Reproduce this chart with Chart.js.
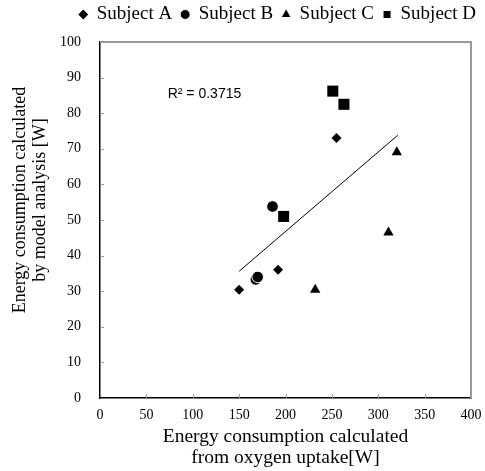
<!DOCTYPE html>
<html>
<head>
<meta charset="utf-8">
<script src="https://cdn.jsdelivr.net/npm/chart.js@4/dist/chart.umd.min.js"></script>
<style>
html, body { margin: 0; padding: 0; background: #fff; }
</style>
</head>
<body>
<canvas id="chart" width="485" height="471"></canvas>
<script>
// values
const subjectA = [{x: 150, y: 30.4}, {x: 192, y: 36}, {x: 255, y: 73}];
const subjectB = [{x: 186, y: 53.8}, {x: 168, y: 33.3}, {x: 170, y: 34}];
const subjectC = [{x: 232, y: 30.4}, {x: 320, y: 69}, {x: 311, y: 46.5}];
const subjectD = [{x: 251, y: 86.2}, {x: 263, y: 82.5}, {x: 198, y: 51}];
const trendLine = [{x: 150, y: 35.6}, {x: 321, y: 73.8}];
const r2Label = 'R² = 0.3715';
const r2Pos = {x: 73, y: 85.4};

const xTitle = ['Energy consumption calculated', 'from oxygen uptake[W]'];
const yTitle = ['Energy consumption calculated', 'by model analysis [W]'];

const serif = 'Liberation Serif';

// frame lines, inward tick marks, R² note and the y title
const framePlugin = {
  id: 'frame',
  afterDraw(chart) {
    const ctx = chart.ctx;
    const a = chart.chartArea;
    const xs = chart.scales.x, ys = chart.scales.y;
    ctx.save();
    ctx.strokeStyle = '#9a9a9a';
    ctx.lineWidth = 2;
    ctx.beginPath();
    ctx.moveTo(a.left, a.top);
    ctx.lineTo(a.right, a.top);
    ctx.lineTo(a.right, a.bottom);
    ctx.stroke();

    // small ticks pointing into the plot
    ctx.lineWidth = 1;
    ctx.beginPath();
    xs.ticks.forEach(t => {
      const px = Math.round(xs.getPixelForValue(t.value)) + 0.5;
      if (t.value === xs.min || t.value === xs.max) return;
      ctx.moveTo(px, a.bottom);
      ctx.lineTo(px, a.bottom - 4);
    });
    ys.ticks.forEach(t => {
      const py = Math.round(ys.getPixelForValue(t.value)) + 0.5;
      if (t.value === ys.min || t.value === ys.max) return;
      ctx.moveTo(a.left, py);
      ctx.lineTo(a.left + 4, py);
    });
    ctx.stroke();

    ctx.fillStyle = '#000';
    ctx.font = '14px "Liberation Sans"';
    ctx.textBaseline = 'middle';
    ctx.fillText(r2Label, xs.getPixelForValue(r2Pos.x), ys.getPixelForValue(r2Pos.y));

    // y axis title, sitting a little above the plot centre like the original
    ctx.font = '18px "' + serif + '"';
    ctx.textAlign = 'center';
    ctx.translate(0, 200);
    ctx.rotate(-Math.PI / 2);
    ctx.fillText(yTitle[0], 0, 20);
    ctx.fillText(yTitle[1], 0, 40);
    ctx.restore();
  }
};

// give the legend extra room below it
const legendSpace = {
  id: 'legendSpace',
  beforeInit(chart) {
    const fit = chart.legend.fit;
    chart.legend.fit = function() {
      fit.bind(chart.legend)();
      this.height += 8;
    };
  }
};

new Chart(document.getElementById('chart'), {
  type: 'scatter',
  data: {
    datasets: [
      {label: 'Subject A', data: subjectA, pointStyle: 'rectRot', pointRadius: 5,
       backgroundColor: '#000', borderColor: '#000', borderWidth: 0},
      {label: 'Subject B', data: subjectB, pointStyle: 'circle', pointRadius: 5.8,
       backgroundColor: '#000', borderColor: '#fff', borderWidth: 1},
      {label: 'Subject C', data: subjectC, pointStyle: 'triangle', pointRadius: 6,
       backgroundColor: '#000', borderColor: '#000', borderWidth: 0},
      {label: 'Subject D', data: subjectD, pointStyle: 'rect', pointRadius: 7.8,
       backgroundColor: '#000', borderColor: '#000', borderWidth: 0},
      {label: 'trend', data: trendLine, type: 'line', showLine: true, pointRadius: 0,
       borderColor: '#000', borderWidth: 1, fill: false}
    ]
  },
  options: {
    responsive: false,
    animation: false,
    layout: {padding: {left: 0, right: 0, top: -4, bottom: 0}},
    plugins: {
      tooltip: {enabled: false},
      legend: {
        position: 'top',
        align: 'end',
        labels: {
          usePointStyle: true,
          boxWidth: 8,
          boxHeight: 7,
          padding: 9,
          color: '#000',
          font: {family: serif, size: 19},
          filter: item => item.text !== 'trend'
        }
      }
    },
    scales: {
      x: {
        min: 0, max: 400,
        afterFit(scale) {
          scale.height = 73;
          scale.paddingRight = 14;
        },
        ticks: {stepSize: 50, color: '#000', padding: 9, font: {family: serif, size: 14}},
        grid: {drawOnChartArea: false, drawTicks: false},
        border: {color: '#000', width: 1.5},
        title: {display: true, text: xTitle, color: '#000', padding: {top: 0, bottom: 3},
                font: {family: serif, size: 19.5, lineHeight: 1.05}}
      },
      y: {
        min: 0, max: 100,
        afterFit(scale) { scale.width = 100; },
        ticks: {stepSize: 10, color: '#000', padding: 19, font: {family: serif, size: 14}},
        grid: {drawOnChartArea: false, drawTicks: false},
        border: {color: '#000', width: 1.5}
      }
    }
  },
  plugins: [framePlugin, legendSpace]
});
</script>
</body>
</html>
